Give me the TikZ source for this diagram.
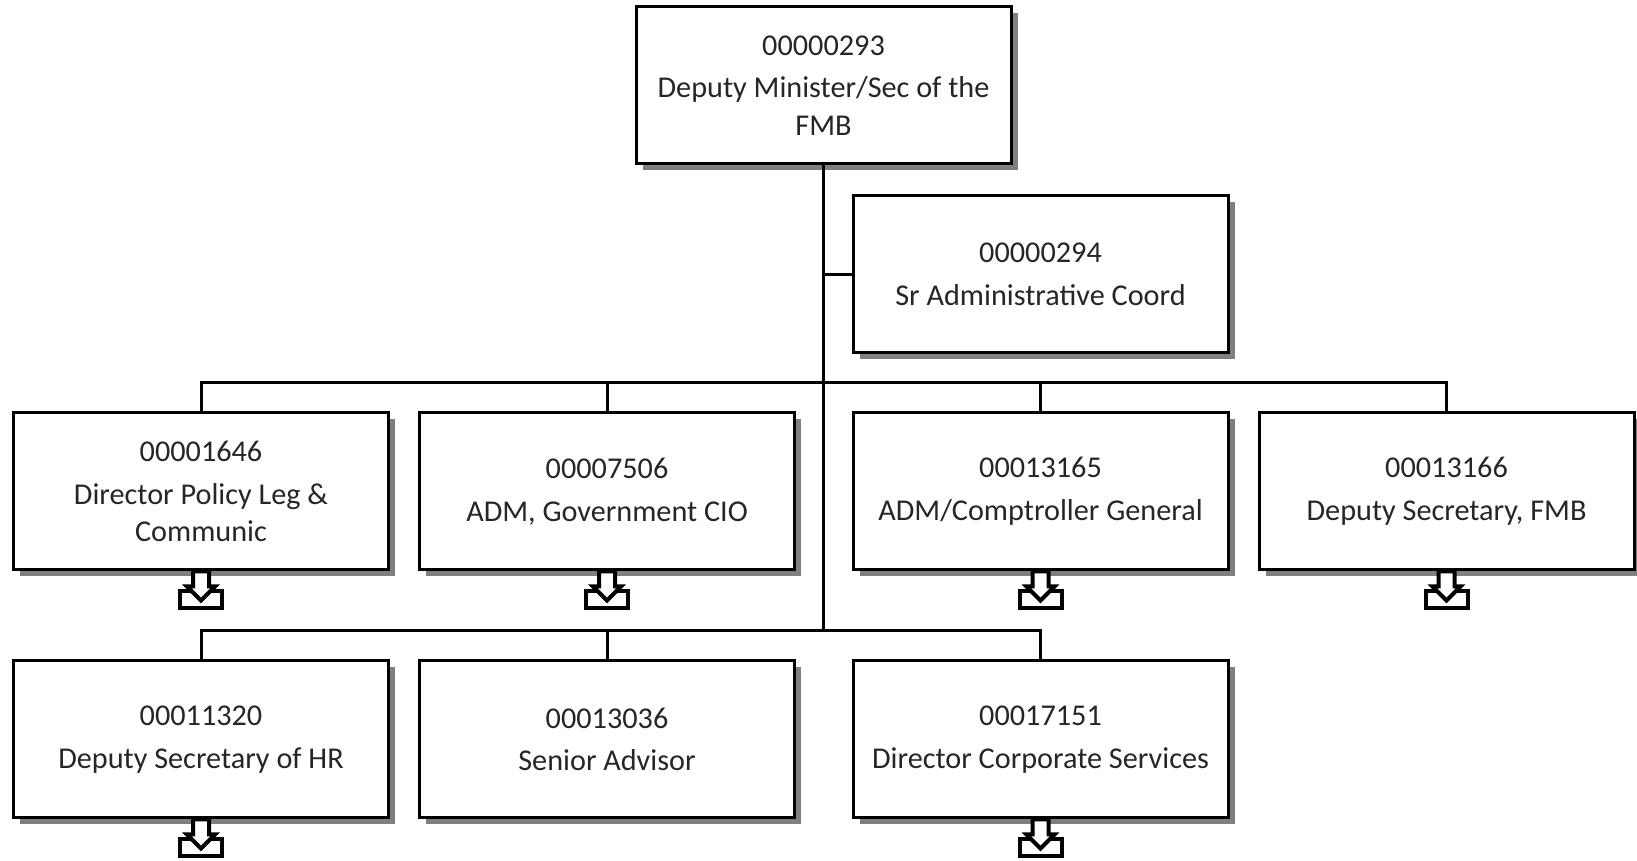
\documentclass[tikz,border=0pt]{standalone}
\usepackage{fontspec}
\setmainfont{Carlito}
\usepackage{xcolor}
\usetikzlibrary{shadows}
\tikzset{
	posbox/.style={draw=black, line width=0.03cm, fill=white, minimum width=3.75cm, minimum height=1.57cm,
		inner sep=0pt, align=center, text=black!85, font=\fontsize{8.6pt}{10.6pt}\selectfont,
		drop shadow={shadow xshift=0.065cm, shadow yshift=-0.065cm, fill=black!50, opacity=1}},
	orgline/.style={black, line width=0.03cm},
	subicon/.pic={
		\draw [black, line width=0.04cm, fill=white] (-0.21,-0.2) rectangle (0.21,-0.37);
		\draw [black, line width=0.04cm, fill=white] (-0.08,0) -- (0.08,0) -- (0.08,-0.15) -- (0.14,-0.15) -- (0,-0.29) -- (-0.14,-0.15) -- (-0.08,-0.15) -- cycle;
	}
}
\begin{document}
\begin{tikzpicture}
	\useasboundingbox (0,0) rectangle (16.37,8.61);
	% top
	\node [posbox] (p293) at (8.235,7.755) {00000293\\[1.5pt]Deputy Minister/Sec of the\\FMB};
	\node [posbox] (p294) at (10.405,5.865) {00000294\\[1.5pt]Sr Administrative Coord};
	% first row
	\node [posbox] (p1646) at (2.01,3.695) {00001646\\[1.5pt]Director Policy Leg \&\\Communic};
	\node [posbox] (p7506) at (6.07,3.695) {00007506\\[1.5pt]ADM, Government CIO};
	\node [posbox] (p13165) at (10.405,3.695) {00013165\\[1.5pt]ADM/Comptroller General};
	\node [posbox] (p13166) at (14.465,3.695) {00013166\\[1.5pt]Deputy Secretary, FMB};
	% second row
	\node [posbox] (p11320) at (2.01,1.215) {00011320\\[1.5pt]Deputy Secretary of HR};
	\node [posbox] (p13036) at (6.07,1.215) {00013036\\[1.5pt]Senior Advisor};
	\node [posbox] (p17151) at (10.405,1.215) {00017151\\[1.5pt]Director Corporate Services};
	% trunk
	\coordinate (bar1) at (p293.south |- 0,4.78);
	\coordinate (bar2) at (p293.south |- 0,2.30);
	\draw [orgline] (p293.south) -- (bar2);
	\draw [orgline] (p293.south |- p294.west) -- (p294.west);
	% -
	\draw [orgline] (bar1) -| (p1646.north);
	\draw [orgline] (bar1) -| (p7506.north);
	\draw [orgline] (bar1) -| (p13165.north);
	\draw [orgline] (bar1) -| (p13166.north);
	% -
	\draw [orgline] (bar2) -| (p11320.north);
	\draw [orgline] (bar2) -| (p13036.north);
	\draw [orgline] (bar2) -| (p17151.north);
	% more below
	\pic at (p1646.south) {subicon};
	\pic at (p7506.south) {subicon};
	\pic at (p13165.south) {subicon};
	\pic at (p13166.south) {subicon};
	\pic at (p11320.south) {subicon};
	\pic at (p17151.south) {subicon};
\end{tikzpicture}
\end{document}
